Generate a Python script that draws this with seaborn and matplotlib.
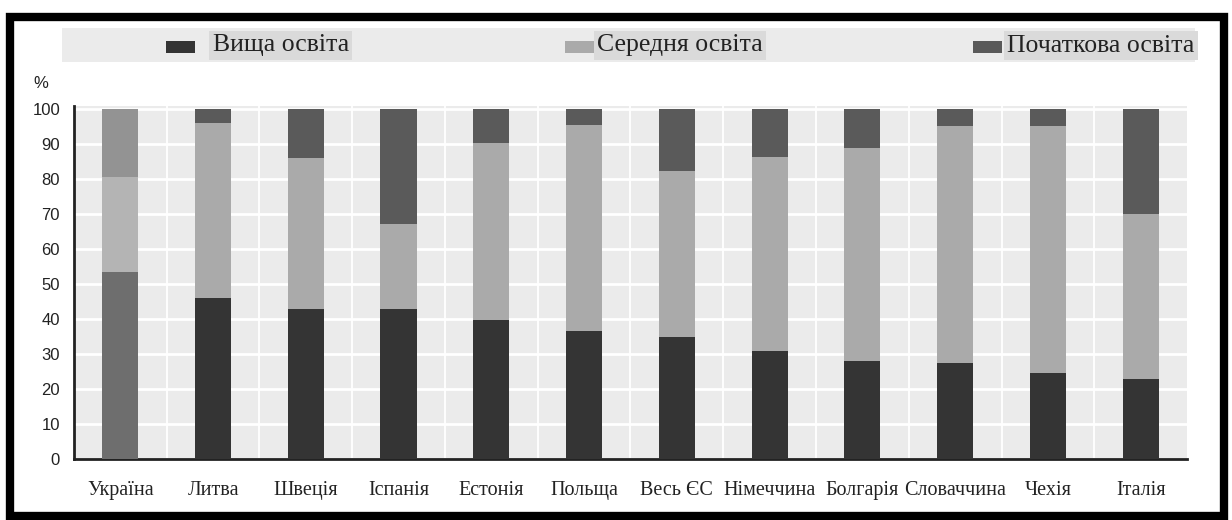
import numpy as np
import seaborn as sns
from matplotlib import pyplot as plt
from matplotlib.patches import Rectangle

countries = ["Україна", "Литва", "Швеція", "Іспанія", "Естонія", "Польща",
             "Весь ЄС", "Німеччина", "Болгарія", "Словаччина", "Чехія", "Італія"]
higher = [53.5, 45.9, 42.8, 42.8, 39.7, 36.7, 34.9, 30.9, 28.0, 27.3, 24.5, 23.0]
secondary = [27.2, 50.2, 43.1, 24.3, 50.7, 58.7, 47.4, 55.5, 60.8, 67.9, 70.6, 47.0]
primary = [19.3, 3.9, 14.1, 32.9, 9.6, 4.6, 17.7, 13.6, 11.2, 4.8, 4.9, 30.0]
labels = ["Вища освіта", "Середня освіта", "Початкова освіта"]

dark, light, mid = "#343434", "#aaaaaa", "#5a5a5a"
ua_dark, ua_light, ua_mid = "#6e6e6e", "#b4b4b4", "#939393"

sns.set_style("white")
fig = plt.figure(figsize=(12.32, 5.2), dpi=100)
ax = fig.add_axes([0.060, 0.1173, 0.9035, 0.6788])
ax.set_facecolor("#ebebeb")

# stacked bars: draw cumulative totals from the top segment down
h = np.array(higher)
hs = h + np.array(secondary)
tot = hs + np.array(primary)
for vals, c, cu in [(tot, mid, ua_mid), (hs, light, ua_light), (h, dark, ua_dark)]:
    pal = [cu] + [c] * (len(countries) - 1)
    sns.barplot(x=countries, y=vals, hue=countries, palette=pal, legend=False,
                width=0.39, saturation=1, ax=ax, zorder=3, linewidth=0)

ax.set_ylim(0, 100.85)
ax.set_xlim(-0.5, len(countries) - 0.5)
ax.set_yticks(range(0, 101, 10))
ax.yaxis.grid(True, color="white", linewidth=2, zorder=1)
ax.set_xticks(np.arange(-0.5, len(countries), 1.0))
ax.set_xticklabels([])
ax.set_xticks(range(len(countries)), minor=True)
ax.set_xticklabels(countries, minor=True, family="Liberation Serif", fontsize=14.5, color="#222222")
for xb in np.arange(0.5, len(countries) - 1, 1.0):
    ax.axvline(xb, color="white", linewidth=1.3, zorder=1)
ax.tick_params(axis="x", which="major", direction="in", length=4, width=1.5, color="#222222")
ax.tick_params(axis="x", which="minor", length=0, pad=16)
ax.tick_params(axis="y", direction="in", length=5, width=1.5, color="#222222", pad=10,
               labelsize=12, labelcolor="#222222")
for t in ax.get_yticklabels():
    t.set_family("Liberation Sans")
for s in ["top", "right"]:
    ax.spines[s].set_visible(False)
for s in ["left", "bottom"]:
    ax.spines[s].set_color("#222222")
    ax.spines[s].set_linewidth(2)
ax.set_xlabel("")
ax.set_ylabel("")
fig.text(0.033, 0.84, "%", family="Liberation Sans", fontsize=12, color="#222222",
         ha="center", va="center")

# legend band
fig.patches.append(Rectangle((0.0503, 0.8808), 0.9197, 0.0654, transform=fig.transFigure,
                             facecolor="#ebebeb", edgecolor="none", zorder=0))
legend_items = [(0.1347, 0.1725, dark), (0.4586, 0.4845, light), (0.7898, 0.8175, mid)]
for (sx, tx, col), lab in zip(legend_items, labels):
    fig.patches.append(Rectangle((sx, 0.898), 0.0235, 0.023, transform=fig.transFigure,
                                 facecolor=col, edgecolor="none"))
    fig.text(tx, 0.9125, lab, family="Liberation Serif", fontsize=18.5, color="#222222",
             va="center", ha="left",
             bbox=dict(boxstyle="square,pad=0.12", facecolor="#dadada", edgecolor="none"))

# outer frame
fig.patches.append(Rectangle((0.008, 0.0077), 0.9855, 0.9593, transform=fig.transFigure,
                             facecolor="none", edgecolor="black", linewidth=6, zorder=10))

fig.savefig("out.png", dpi=100, facecolor="white")
